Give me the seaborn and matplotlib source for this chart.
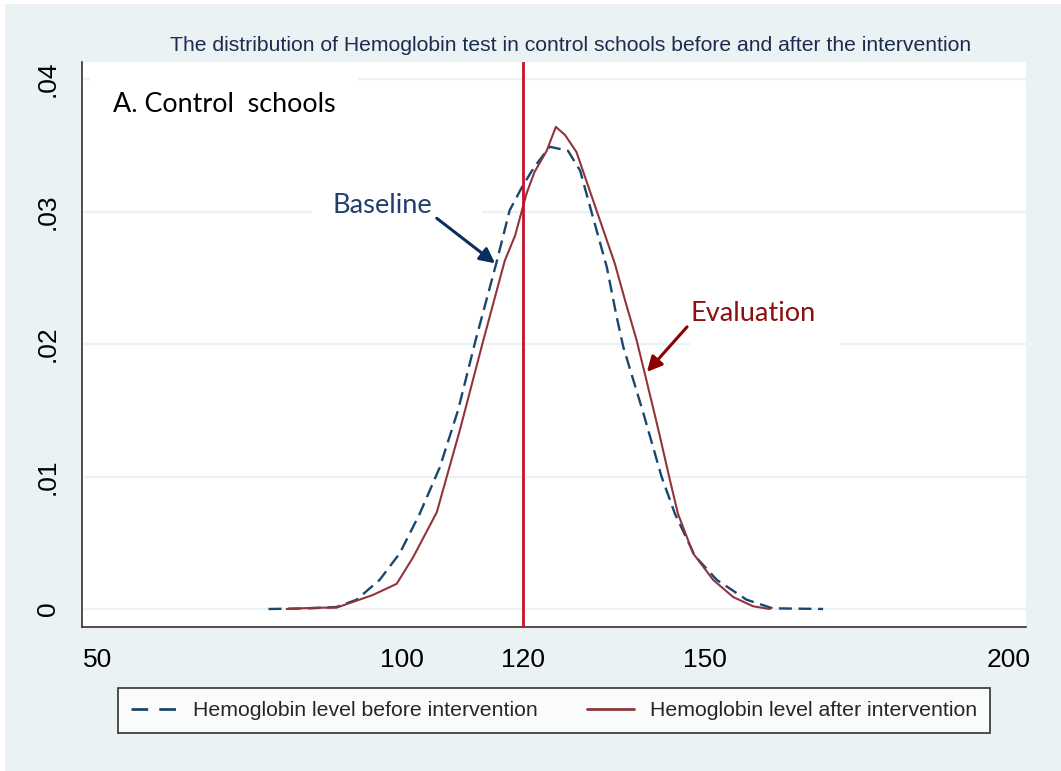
import numpy as np
import pandas as pd
import matplotlib
matplotlib.use("Agg")
import matplotlib.pyplot as plt
from matplotlib.patches import Rectangle
from matplotlib.lines import Line2D
import seaborn as sns

# ---- data ----
before_x = [78.1, 85.0, 89.3, 92.6, 96.4, 99.7, 103.0, 106.3, 109.3, 112.2, 115.6, 117.8,
            120.0, 121.9, 124.4, 127.4, 129.4, 131.5, 133.8, 135.4, 136.5, 139.8, 142.8,
            145.0, 148.3, 151.9, 156.8, 161.1, 169.4]
before_y = [0.0, 0.00005, 0.00015, 0.0007, 0.0022, 0.0042, 0.0072, 0.0107, 0.0150, 0.0203,
            0.0261, 0.0301, 0.0320, 0.0334, 0.0349, 0.0346, 0.0331, 0.0296, 0.0258, 0.0221,
            0.0198, 0.0148, 0.0100, 0.0072, 0.0040, 0.0022, 0.0007, 0.00005, 0.0]

after_x = [81.1, 86.0, 89.3, 95.3, 99.2, 101.9, 105.8, 109.6, 113.3, 117.0, 118.7, 120.6,
           121.9, 123.9, 125.4, 126.9, 128.8, 131.5, 135.1, 136.8, 138.7, 140.3, 142.3,
           144.2, 145.5, 148.0, 151.3, 154.6, 157.9, 160.6]
after_y = [0.0, 0.0001, 0.0001, 0.00106, 0.0019, 0.0039, 0.0073, 0.0135, 0.0200, 0.0263,
           0.0282, 0.0314, 0.0330, 0.0346, 0.0364, 0.0358, 0.0345, 0.0309, 0.0261, 0.0233,
           0.0203, 0.0173, 0.0135, 0.0097, 0.0072, 0.0042, 0.0022, 0.0009, 0.0002, 0.0]

x_ticks = [50, 100, 120, 150, 200]
y_ticks = [0, 0.01, 0.02, 0.03, 0.04]
y_tick_labels = ["0", ".01", ".02", ".03", ".04"]
ref_line = 120
series_labels = ["Hemoglobin level before intervention", "Hemoglobin level after intervention"]
title = "The distribution of Hemoglobin test in control schools before and after the intervention"

df_before = pd.DataFrame({"x": before_x, "y": before_y})
df_after = pd.DataFrame({"x": after_x, "y": after_y})

# ---- styling ----
sns.set_style("white")
plt.rcParams["font.family"] = ["Liberation Sans", "DejaVu Sans"]

BG = "#eaf2f3"
BLUE = "#1a476f"
RED = "#90353b"
CRIMSON = "#c8102e"

fig = plt.figure(figsize=(10.61, 7.71), dpi=100)
fig.patch.set_facecolor("white")
fig.add_artist(Rectangle((5 / 1061, 0), 1, 1 - 4 / 771, transform=fig.transFigure,
                         facecolor=BG, edgecolor="none", zorder=-10))

ax = fig.add_axes([82 / 1061, 144 / 771, (1026 - 82) / 1061, (627 - 62) / 771])
ax.set_facecolor("white")

ax.set_xlim(47.4, 202.8)
ax.set_ylim(-0.00136, 0.0413)

# gridlines
for yv in y_ticks:
    ax.axhline(yv, color=BG, lw=1.6, zorder=0.5)

# white boxes of overlaid text (cover gridlines)
for (x0, x1, y0, y1) in [(48.7, 92.8, 0.0358, 0.0407), (85.2, 113.2, 0.029, 0.032),
                         (147.5, 172.2, 0.0196, 0.0241)]:
    ax.add_patch(Rectangle((x0, y0), x1 - x0, y1 - y0, facecolor="white",
                           edgecolor="none", zorder=0.8))

sns.lineplot(data=df_before, x="x", y="y", ax=ax, color=BLUE, lw=1.7,
             linestyle=(0, (5.5, 2.8)), zorder=3)
sns.lineplot(data=df_after, x="x", y="y", ax=ax, color=RED, lw=1.5, zorder=3)

ax.axvline(ref_line, color=CRIMSON, lw=2, zorder=4)

ax.set_xticks(x_ticks)
ax.set_xticklabels([str(v) for v in x_ticks])
ax.set_yticks(y_ticks)
ax.set_yticklabels(y_tick_labels, rotation=90, va="center")
ax.tick_params(axis="both", direction="out", length=10, width=1.2, color="#333333",
               labelsize=19, labelcolor="black")
ax.tick_params(axis="x", pad=5)
ax.tick_params(axis="y", pad=6)
ax.set_xlabel("")
ax.set_ylabel("")

for s in ["top", "right"]:
    ax.spines[s].set_visible(False)
for s in ["left", "bottom"]:
    ax.spines[s].set_color("#333333")
    ax.spines[s].set_linewidth(1.2)

# annotations
cal = ["Lato", "DejaVu Sans"]
ax.text(52.5, 0.0381, "A. Control  schools", fontsize=19.4, family=cal, color="black",
        va="center", ha="left", zorder=5)
ax.text(96.8, 0.0305, "Baseline", fontsize=19.6, family=cal, color="#1f3f6e",
        va="center", ha="center", zorder=5)
ax.text(157.9, 0.0223, "Evaluation", fontsize=19.6, family=cal, color="#8b1010",
        va="center", ha="center", zorder=5)
ax.annotate("", xy=(115.4, 0.0261), xytext=(105.8, 0.0295),
            arrowprops=dict(arrowstyle="-|>,head_length=0.9,head_width=0.45", color="#0b2e5c",
                            lw=2.2, shrinkA=0, shrinkB=0), zorder=5)
ax.annotate("", xy=(140.4, 0.0179), xytext=(147.0, 0.0213),
            arrowprops=dict(arrowstyle="-|>,head_length=0.9,head_width=0.45", color="#8b0000",
                            lw=2.2, shrinkA=0, shrinkB=0), zorder=5)

fig.text(0.538, 0.9416, title, fontsize=15.2, color="#1e2b50", ha="center", va="center")

handles = [Line2D([], [], color=BLUE, lw=2, linestyle=(0, (6, 4))),
           Line2D([], [], color=RED, lw=2)]
leg = fig.legend(handles, series_labels, loc="center", bbox_to_anchor=(0.522, 0.0785),
                 ncol=2, fontsize=15.3, frameon=True, fancybox=False, edgecolor="black",
                 handlelength=2.2, handletextpad=0.75, columnspacing=2.3,
                 borderpad=0.62, borderaxespad=0)
leg.get_frame().set_linewidth(1.2)
leg.get_frame().set_facecolor("white")

fig.savefig("out.png", dpi=100, facecolor=fig.get_facecolor())
